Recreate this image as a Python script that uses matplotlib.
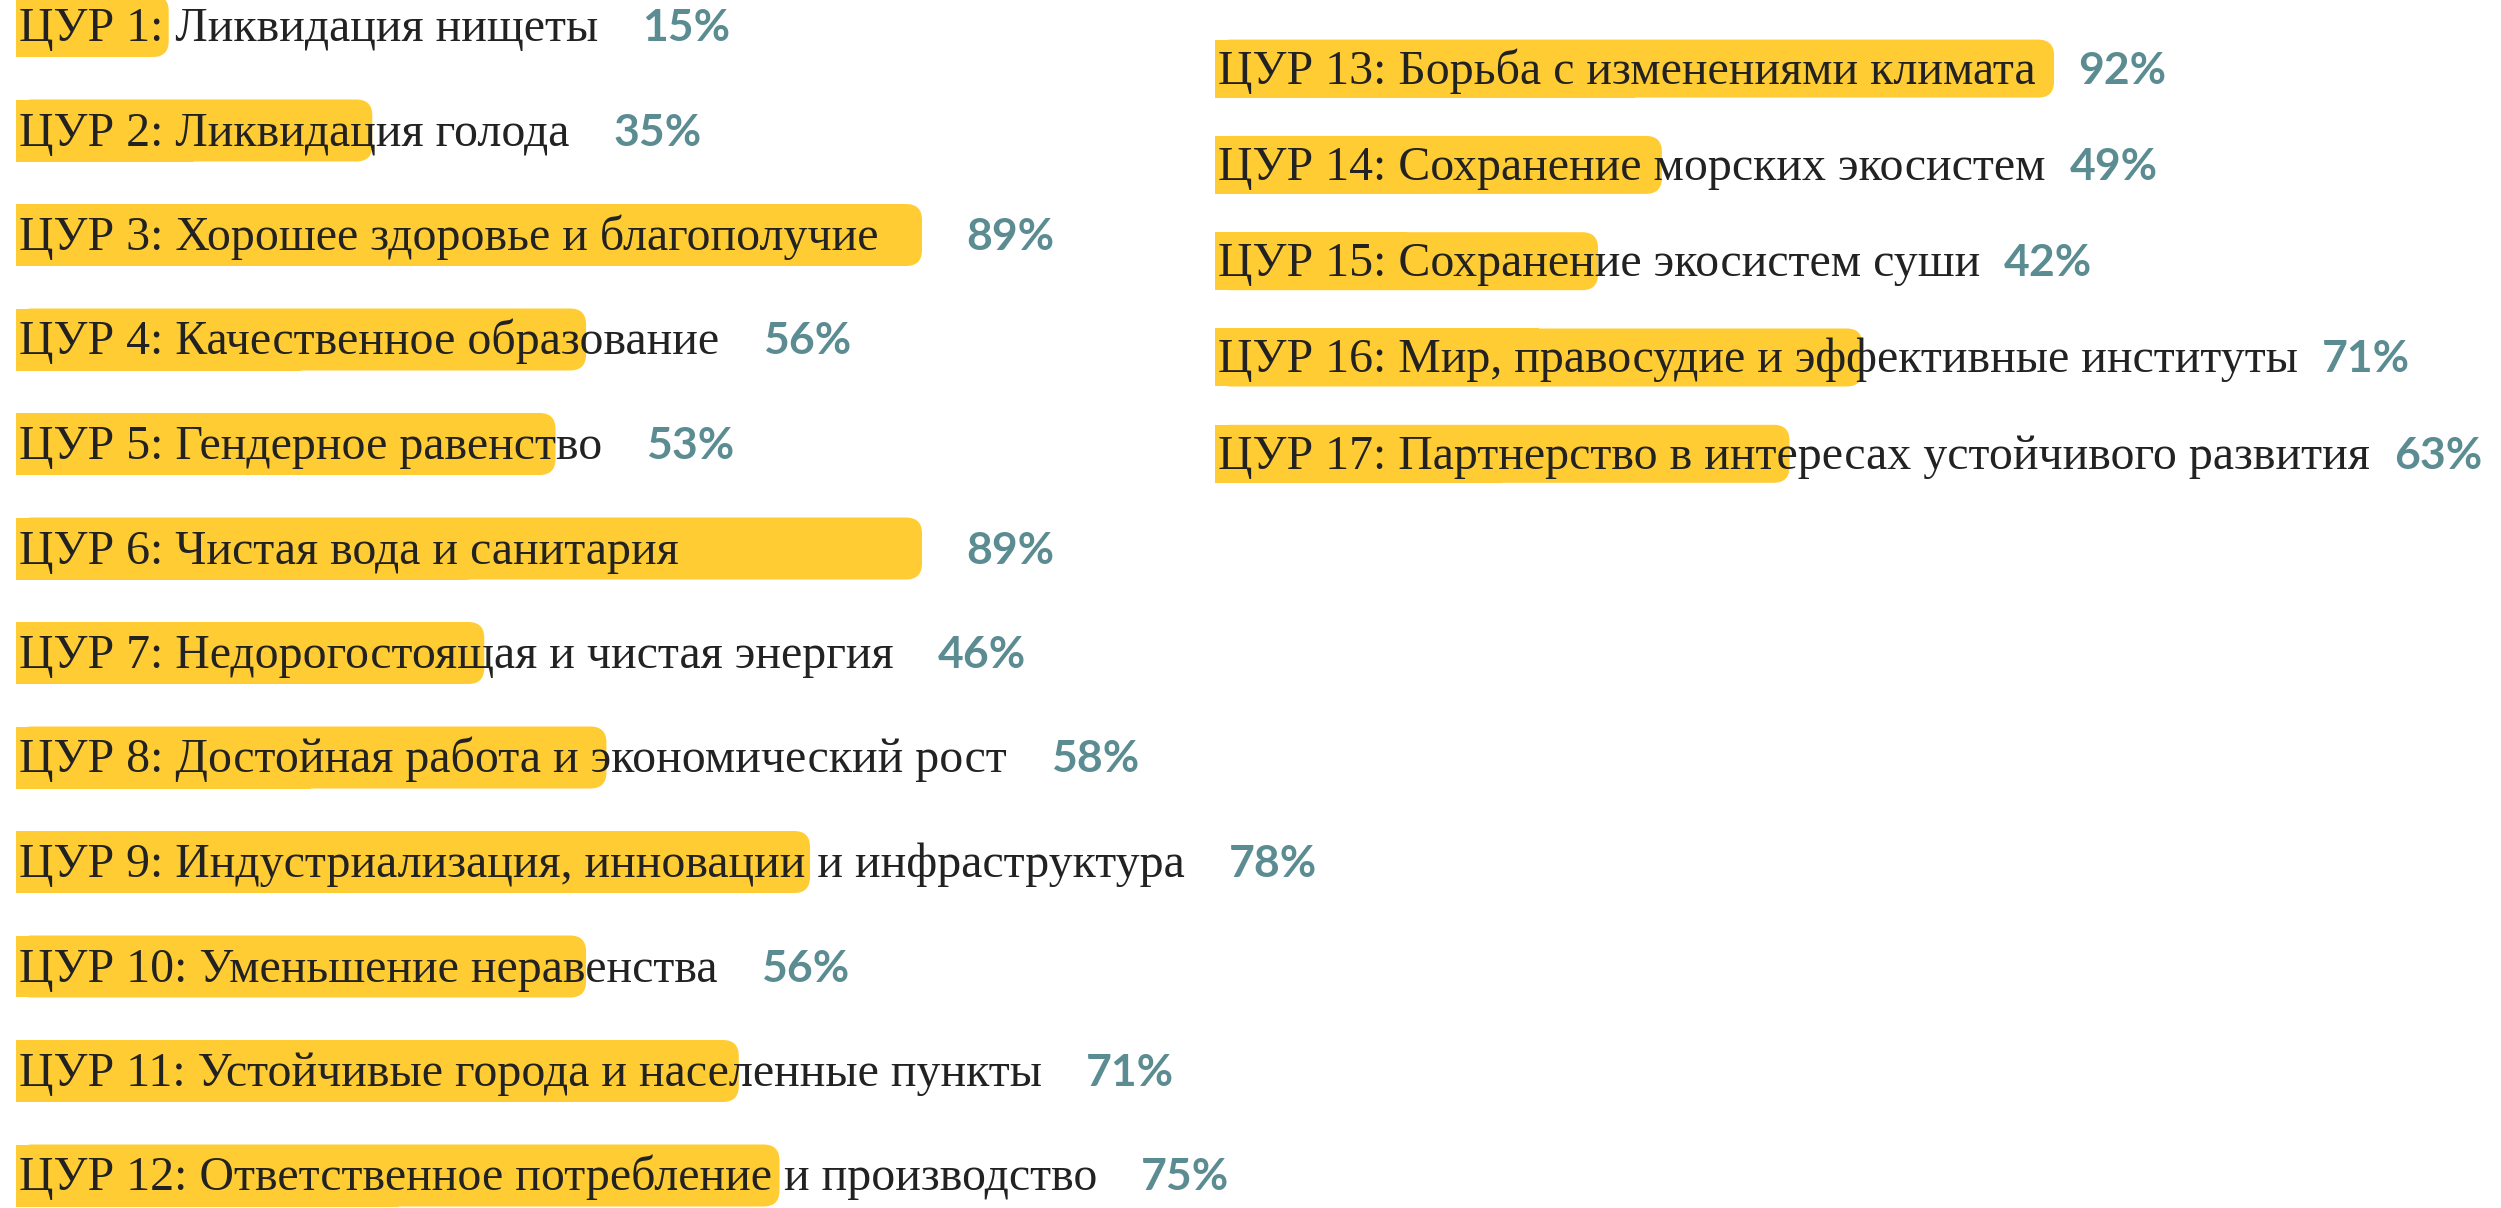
import matplotlib
matplotlib.use('Agg')
import matplotlib.pyplot as plt
from matplotlib.patches import FancyBboxPatch
from matplotlib.transforms import offset_copy

W, H, DPI = 2501, 1208, 100

LEFT_LABELS = [
    'ЦУР 1: Ликвидация нищеты',
    'ЦУР 2: Ликвидация голода',
    'ЦУР 3: Хорошее здоровье и благополучие',
    'ЦУР 4: Качественное образование',
    'ЦУР 5: Гендерное равенство',
    'ЦУР 6: Чистая вода и санитария',
    'ЦУР 7: Недорогостоящая и чистая энергия',
    'ЦУР 8: Достойная работа и экономический рост',
    'ЦУР 9: Индустриализация, инновации и инфраструктура',
    'ЦУР 10: Уменьшение неравенства',
    'ЦУР 11: Устойчивые города и населенные пункты',
    'ЦУР 12: Ответственное потребление и производство',
]
LEFT_VALUES = [15, 35, 89, 56, 53, 89, 46, 58, 78, 56, 71, 75]

RIGHT_LABELS = [
    'ЦУР 13: Борьба с изменениями климата',
    'ЦУР 14: Сохранение морских экосистем',
    'ЦУР 15: Сохранение экосистем суши',
    'ЦУР 16: Мир, правосудие и эффективные институты',
    'ЦУР 17: Партнерство в интересах устойчивого развития',
]
RIGHT_VALUES = [92, 49, 42, 71, 63]

BAR_COLOR = '#FFCC33'
TEXT_COLOR = '#222222'
PCT_COLOR = '#5B8C91'
LABEL_FONT = dict(family='Liberation Serif', size=34.5, color=TEXT_COLOR)
PCT_FONT = dict(family='Lato', weight='bold', size=32, color=PCT_COLOR)

fig = plt.figure(figsize=(W / DPI, H / DPI), dpi=DPI)


def make_axes(x0, full_len, first_center, pitch):
    # one axes per column: x is 0..100 %, y is the row index
    ax = fig.add_axes([x0 / W, 0, full_len / W, 1])
    ax.set_xlim(0, 100)
    ax.set_ylim((H - first_center) / pitch, -first_center / pitch)
    ax.axis('off')
    return ax


def draw_column(ax, labels, values, full_len, pitch, bar_px, gap):
    ppx = full_len / 100.0
    bar_h = bar_px / pitch
    r = 16 / ppx
    label_tr = offset_copy(ax.transData, fig=fig, x=3, y=-15, units='dots')
    pct_tr = offset_copy(ax.transData, fig=fig, y=-15, units='dots')
    texts = []
    for i, (lab, val) in enumerate(zip(labels, values)):
        ax.barh(i, val / 2, height=bar_h, color=BAR_COLOR, linewidth=0)
        ax.add_patch(FancyBboxPatch((0, i - bar_h / 2), val, bar_h,
                                    boxstyle=f'round,pad=0,rounding_size={r}',
                                    mutation_aspect=ppx / pitch,
                                    fc=BAR_COLOR, ec='none'))
        t = ax.text(0, i, lab, transform=label_tr, va='baseline', ha='left', **LABEL_FONT)
        texts.append(t)

    fig.canvas.draw()
    renderer = fig.canvas.get_renderer()
    inv = ax.transData.inverted()
    for i, (t, val) in enumerate(zip(texts, values)):
        text_end = t.get_window_extent(renderer).x1
        bar_end = ax.transData.transform((val, i))[0]
        x = inv.transform((max(text_end, bar_end) + gap, 0))[0]
        ax.text(x, i, f'{val}%', transform=pct_tr, va='baseline', ha='left', **PCT_FONT)


ax_left = make_axes(16, 1018, 26, 104.5)
draw_column(ax_left, LEFT_LABELS, LEFT_VALUES, 1018, 104.5, 62, 44)

ax_right = make_axes(1215, 912, 68.6, 96.3)
draw_column(ax_right, RIGHT_LABELS, RIGHT_VALUES, 912, 96.3, 58, 24)

fig.savefig('out.png', dpi=DPI)
